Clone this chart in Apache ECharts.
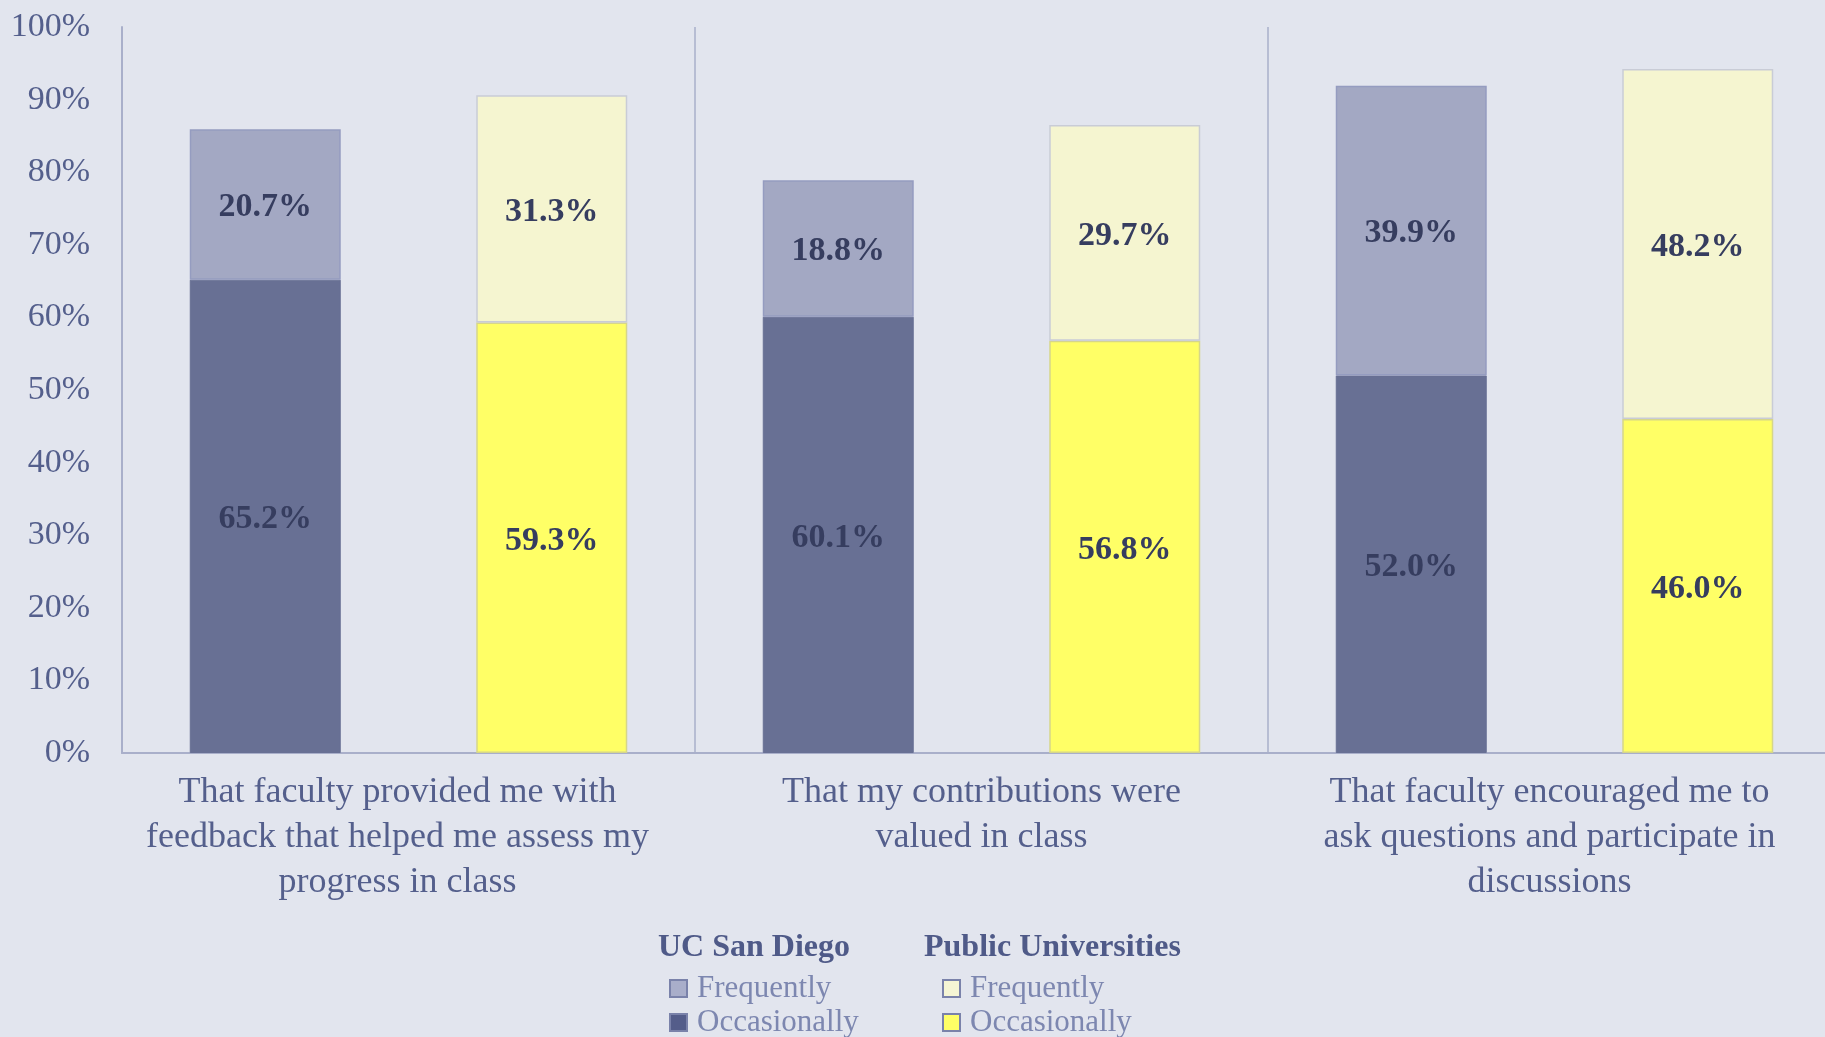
<!DOCTYPE html>
<html>
<head>
<meta charset="utf-8">
<script src="https://cdn.jsdelivr.net/npm/echarts@6/dist/echarts.min.js"></script>
<style>
  html, body { margin: 0; padding: 0; background: #e2e5ee; overflow: hidden; }
  /* the plot runs past the right edge in the original, so the canvas is a bit wider than the window */
  #chart { width: 1845px; height: 1037px; }
</style>
</head>
<body>
<div id="chart"></div>
<script>
// data
const categories = [
  'That faculty provided me with\nfeedback that helped me assess my\nprogress in class',
  'That my contributions were\nvalued in class',
  'That faculty encouraged me to\nask questions and participate in\ndiscussions'
];
const ucsdOccasionally = [65.2, 60.1, 52.0];
const ucsdFrequently = [20.7, 18.8, 39.9];
const publicOccasionally = [59.3, 56.8, 46.0];
const publicFrequently = [31.3, 29.7, 48.2];

const font = '"Liberation Serif", "DejaVu Serif", serif';
const axisColor = '#a9afca';
const textColor = '#545f8c';

// each question gets two slots: UCSD then public
const slots = [];
categories.forEach((c, i) => { slots.push('u' + i); slots.push('p' + i); });
const inSlot = (arr, offset) => {
  const out = [];
  arr.forEach(v => {
    if (offset === 0) { out.push(v); out.push('-'); }
    else { out.push('-'); out.push(v); }
  });
  return out;
};

// the original labels sit a little left of centre for the 1st and 3rd question
const labelNudge = [22, 0, 10];
const categoryItems = categories.map((c, i) => ({
  value: c,
  textStyle: { padding: [0, labelNudge[i], 0, 0] }
}));

const barLabel = {
  show: true,
  position: 'inside',
  offset: [0, 3],
  formatter: p => p.value.toFixed(1) + '%',
  color: '#363d5f',
  fontFamily: font,
  fontWeight: 'bold',
  fontSize: 34
};

const chart = echarts.init(document.getElementById('chart'));

// one legend per entry so nothing wraps near the bottom edge
const legendItem = (left, top, name, style) => ({
  orient: 'vertical',
  left: left,
  top: top,
  padding: 0,
  itemWidth: 17,
  itemHeight: 17,
  icon: 'rect',
  formatter: n => n.split('|')[1],
  textStyle: {
    fontFamily: font,
    fontSize: 31,
    lineHeight: 30,
    color: '#7d87b0',
    padding: [0, 0, 0, 5]
  },
  data: [{ name: name, itemStyle: style }]
});
const iconBorder = { borderColor: '#7a82aa', borderWidth: 2 };

const option = {
  backgroundColor: '#e2e5ee',
  animation: false,
  grid: { left: 122, top: 27, width: 1719, height: 726 },
  xAxis: [
    {
      type: 'category',
      data: slots,
      show: false
    },
    {
      type: 'category',
      data: categoryItems,
      position: 'bottom',
      axisLine: { show: true, lineStyle: { color: axisColor, width: 2 } },
      axisTick: { show: false },
      splitLine: { show: true, lineStyle: { color: axisColor, width: 1.5 } },
      axisLabel: {
        interval: 0,
        margin: 17,
        color: textColor,
        fontFamily: font,
        fontSize: 36,
        lineHeight: 45
      }
    }
  ],
  yAxis: {
    type: 'value',
    min: 0,
    max: 100,
    interval: 10,
    axisLine: { show: true, lineStyle: { color: axisColor, width: 2 } },
    axisTick: { show: false },
    splitLine: { show: false },
    axisLabel: {
      formatter: '{value}%',
      margin: 32,
      color: textColor,
      fontFamily: font,
      fontSize: 34
    }
  },
  legend: [
    legendItem(669, 973, 'u|Frequently', Object.assign({ color: '#a9aeca' }, iconBorder)),
    legendItem(669, 1007, 'u|Occasionally', Object.assign({ color: '#545d8a' }, iconBorder)),
    legendItem(942, 973, 'p|Frequently', Object.assign({ color: '#f5f5d4' }, iconBorder)),
    legendItem(942, 1007, 'p|Occasionally', Object.assign({ color: '#ffff66' }, iconBorder))
  ],
  graphic: [
    {
      type: 'text', left: 658, top: 932,
      style: { text: 'UC San Diego', fill: '#4f5a88', font: 'bold 32px ' + font }
    },
    {
      type: 'text', left: 924, top: 932,
      style: { text: 'Public Universities', fill: '#4f5a88', font: 'bold 32px ' + font }
    }
  ],
  series: [
    {
      name: 'u|Occasionally', type: 'bar', stack: 'all', barWidth: '52.7%',
      data: inSlot(ucsdOccasionally, 0),
      itemStyle: { color: '#687094', borderColor: '#687094', borderWidth: 1 },
      label: barLabel
    },
    {
      name: 'u|Frequently', type: 'bar', stack: 'all', barWidth: '52.7%',
      data: inSlot(ucsdFrequently, 0),
      itemStyle: { color: '#a3a8c3', borderColor: '#959cc0', borderWidth: 1.5 },
      label: barLabel
    },
    {
      name: 'p|Occasionally', type: 'bar', stack: 'all', barWidth: '52.7%',
      data: inSlot(publicOccasionally, 1),
      itemStyle: { color: '#ffff66', borderColor: '#d6d68a', borderWidth: 1.5 },
      label: barLabel
    },
    {
      name: 'p|Frequently', type: 'bar', stack: 'all', barWidth: '52.7%',
      data: inSlot(publicFrequently, 1),
      itemStyle: { color: '#f5f5d0', borderColor: '#c9ccd6', borderWidth: 1.5 },
      label: barLabel
    }
  ]
};

chart.setOption(option);
</script>
</body>
</html>
